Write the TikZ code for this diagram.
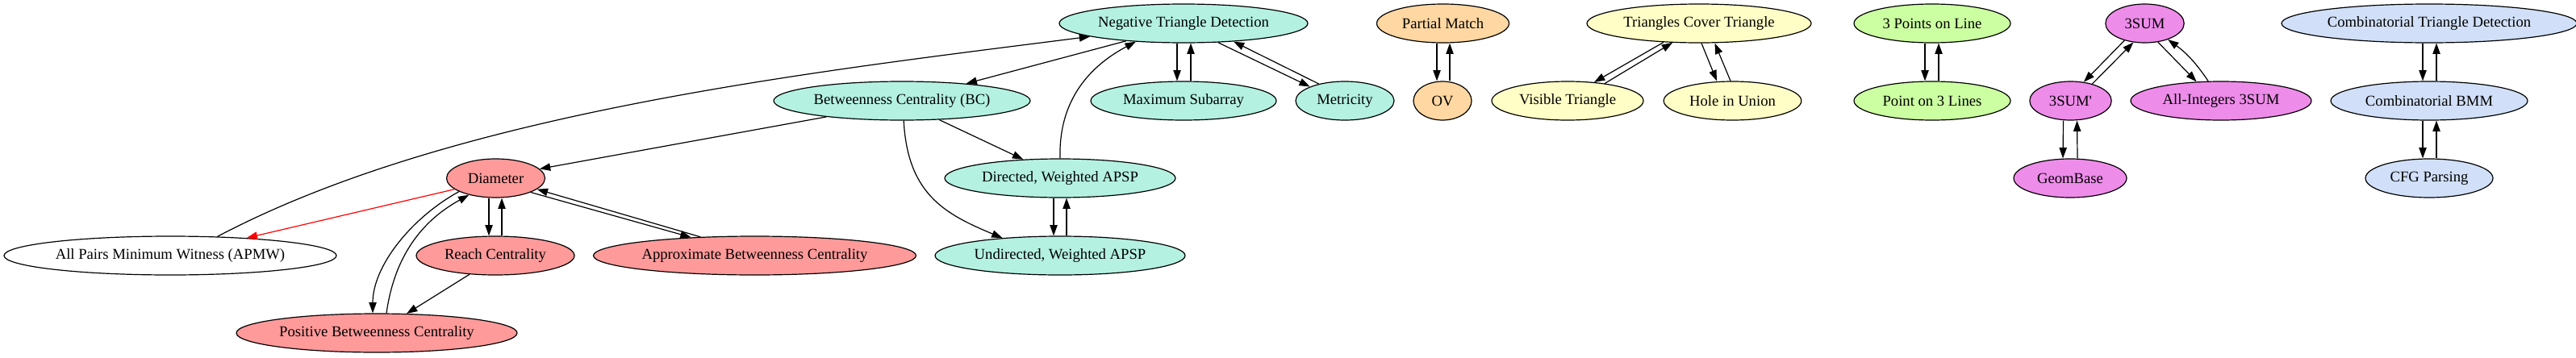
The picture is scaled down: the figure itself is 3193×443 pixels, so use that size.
\documentclass[tikz,border=0pt]{standalone}
\usepackage{fontspec}
\setmainfont{Liberation Serif}
\usetikzlibrary{shapes.geometric,arrows.meta,calc}
\definecolor{cTeal}{HTML}{B4F1E1}
\definecolor{cSalmon}{HTML}{FF9A9A}
\definecolor{cPeach}{HTML}{FFD7A2}
\definecolor{cYellow}{HTML}{FFFEC6}
\definecolor{cGreen}{HTML}{CCFFA2}
\definecolor{cViolet}{HTML}{EE8CEA}
\definecolor{cBlue}{HTML}{D1E0F8}
\tikzset{
  gv/.style={ellipse, draw=black, line width=0.9pt, minimum height=36pt, inner sep=0pt,
    font=\fontsize{14pt}{16pt}\selectfont},
  edge/.style={line width=0.9pt, -{Triangle[length=10pt,width=7pt]}},
  redge/.style={edge, draw=red, -{Triangle[length=10pt,width=7pt,fill=red]}},
}
\newcommand{\gvtext}[1]{\makebox[0pt]{#1}}
\begin{document}
\begin{tikzpicture}[x=0.75pt,y=-0.75pt]
\useasboundingbox (0,0) rectangle (3193,443);
% teal group
\node[gv, fill=cTeal, minimum width=231pt] (ntd) at (1467,29) {\gvtext{Negative Triangle Detection}};
\node[gv, fill=cTeal, minimum width=238.5pt] (bc) at (1118,125) {\gvtext{Betweenness Centrality (BC)}};
\node[gv, fill=cTeal, minimum width=172.5pt] (ms) at (1467,125) {\gvtext{Maximum Subarray}};
\node[gv, fill=cTeal, minimum width=91.5pt] (met) at (1667,125) {\gvtext{Metricity}};
\node[gv, fill=cTeal, minimum width=214.5pt] (dw) at (1314,221) {\gvtext{Directed, Weighted APSP}};
\node[gv, fill=cTeal, minimum width=232.5pt] (uw) at (1314,317) {\gvtext{Undirected, Weighted APSP}};
% salmon group
\node[gv, fill=cSalmon, minimum width=91.5pt] (dia) at (614.5,221) {\gvtext{Diameter}};
\node[gv, fill=white, minimum width=309pt] (apmw) at (211,317) {\gvtext{All Pairs Minimum Witness (APMW)}};
\node[gv, fill=cSalmon, minimum width=147pt] (reach) at (614,317) {\gvtext{Reach Centrality}};
\node[gv, fill=cSalmon, minimum width=300pt] (abc) at (935.5,317) {\gvtext{Approximate Betweenness Centrality}};
\node[gv, fill=cSalmon, minimum width=261pt] (pbc) at (467,413) {\gvtext{Positive Betweenness Centrality}};
% peach
\node[gv, fill=cPeach, minimum width=123pt] (pm) at (1788.5,29) {\gvtext{Partial Match}};
\node[gv, fill=cPeach, minimum width=54pt] (ov) at (1788,125) {\gvtext{OV}};
% yellow
\node[gv, fill=cYellow, minimum width=208.5pt] (tct) at (2106,29) {\gvtext{Triangles Cover Triangle}};
\node[gv, fill=cYellow, minimum width=141pt] (vt) at (1943,125) {\gvtext{Visible Triangle}};
\node[gv, fill=cYellow, minimum width=128pt] (hiu) at (2147.5,125) {\gvtext{Hole in Union}};
% green
\node[gv, fill=cGreen, minimum width=145.5pt] (tpl) at (2395,29) {\gvtext{3 Points on Line}};
\node[gv, fill=cGreen, minimum width=145.5pt] (ptl) at (2395,125) {\gvtext{Point on 3 Lines}};
% violet
\node[gv, fill=cViolet, minimum width=73pt] (sum) at (2658.5,29) {\gvtext{3SUM}};
\node[gv, fill=cViolet, minimum width=76pt] (sump) at (2566.5,125) {\gvtext{3SUM\textquotesingle}};
\node[gv, fill=cViolet, minimum width=168pt] (ai) at (2753,125) {\gvtext{All-Integers 3SUM}};
\node[gv, fill=cViolet, minimum width=105pt] (gb) at (2566,221) {\gvtext{GeomBase}};
% blue
\node[gv, fill=cBlue, minimum width=274.5pt] (ctd) at (3011,29) {\gvtext{Combinatorial Triangle Detection}};
\node[gv, fill=cBlue, minimum width=183pt] (bmm) at (3011,125) {\gvtext{Combinatorial BMM}};
\node[gv, fill=cBlue, minimum width=118.5pt] (cfg) at (3011,221) {\gvtext{CFG Parsing}};

% edges
\draw[edge] (apmw.22.8) .. controls (560,140) and (1000,90) .. (ntd.-172.8);
\draw[edge] (ntd.-163) -- (bc.15.4);
\draw[edge] (bc.-168.6) -- (dia.12.2);
\draw[edge] (bc.-27) -- (dw.153);
\draw[edge] (bc.-85) .. controls (1125,240) and (1170,265) .. (uw.163.6);
\draw[edge] (dw.north) .. controls (1312,130) and (1345,85) .. (ntd.-159);
\draw[edge] ($(dw.south)+(-8,0)$) -- ($(uw.north)+(-8,0)$);
\draw[edge] ($(uw.north)+(8,0)$) -- ($(dw.south)+(8,0)$);
\draw[edge] ($(ntd.south)+(-8,0)$) -- ($(ms.north)+(-8,0)$);
\draw[edge] ($(ms.north)+(9,0)$) -- ($(ntd.south)+(9,0)$);
\draw[edge] (ntd.-29.7) -- (met.158.9);
\draw[edge] (met.147.5) -- (ntd.-20.9);
\draw[redge] (dia.-165) -- (apmw.13.4);
\draw[edge] ($(dia.south)+(-8.5,0)$) -- ($(reach.north)+(-8,0)$);
\draw[edge] ($(reach.north)+(8,0)$) -- ($(dia.south)+(7.5,0)$);
\draw[edge] (dia.-22.2) -- (abc.164.4);
\draw[edge] (abc.161.2) -- (dia.-15.7);
\draw[edge] (dia.-160.7) .. controls (510,270) and (462,330) .. ($(pbc.north)+(-5,0)$);
\draw[edge] ($(pbc.north)+(12,0)$) .. controls (490,310) and (530,270) .. (dia.-148);
\draw[edge] (reach.-144.8) -- (pbc.33.3);
\draw[edge] ($(pm.south)+(-7.5,0)$) -- ($(ov.north)+(-7,0)$);
\draw[edge] ($(ov.north)+(9,0)$) -- ($(pm.south)+(8.5,0)$);
\draw[edge] (tct.-152.4) -- (vt.35.7);
\draw[edge] (vt.25) -- (tct.-144);
\draw[edge] ($(tct.south)+(3,0)$) -- ($(hiu.north)+(-19.5,0)$);
\draw[edge] ($(hiu.north)+(-2.5,0)$) -- ($(tct.south)+(19.5,0)$);
\draw[edge] ($(tpl.south)+(-9,0)$) -- ($(ptl.north)+(-9,0)$);
\draw[edge] ($(ptl.north)+(8,0)$) -- ($(tpl.south)+(8,0)$);
\draw[edge] (sum.-140.3) -- (sump.55.2);
\draw[edge] (sump.38.7) -- (sum.-121);
\draw[edge] (sum.-55.2) -- (ai.142.3);
\draw[edge] (ai.123.7) to[bend right=10] (sum.-35.4);
\draw[edge] ($(sump.south)+(-9,0)$) -- ($(gb.north)+(-9,0)$);
\draw[edge] ($(gb.north)+(9,0)$) -- ($(sump.south)+(8,0)$);
\draw[edge] ($(ctd.south)+(-8,0)$) -- ($(bmm.north)+(-8,0)$);
\draw[edge] ($(bmm.north)+(9,0)$) -- ($(ctd.south)+(9,0)$);
\draw[edge] ($(bmm.south)+(-8,0)$) -- ($(cfg.north)+(-8,0)$);
\draw[edge] ($(cfg.north)+(9,0)$) -- ($(bmm.south)+(9,0)$);
\end{tikzpicture}
\end{document}
